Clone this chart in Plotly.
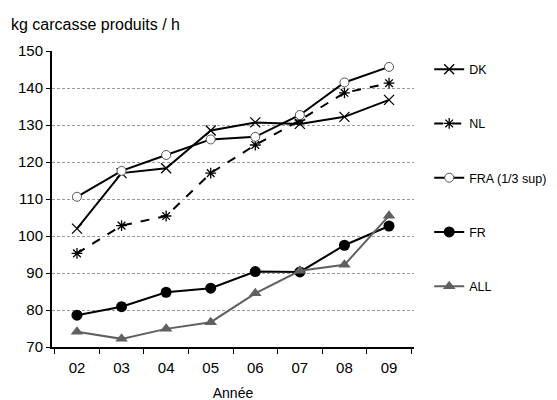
import plotly.graph_objects as go

years = ["02", "03", "04", "05", "06", "07", "08", "09"]
dk = [102.0, 117.0, 118.3, 128.5, 130.7, 130.3, 132.2, 136.8]
nl = [95.3, 102.8, 105.4, 117.0, 124.6, 131.3, 138.7, 141.3]
fra = [110.6, 117.6, 121.9, 126.1, 126.8, 132.7, 141.5, 145.7]
fr = [78.6, 80.9, 84.8, 85.9, 90.4, 90.3, 97.5, 102.7]
all_ = [74.1, 72.2, 74.9, 76.7, 84.5, 90.6, 92.2, 105.5]

fig = go.Figure()
series = [
    ("DK", dk, dict(color="black", width=2, dash="solid"),
     dict(symbol="x-thin-open", size=10, color="black", line=dict(color="black", width=1.3))),
    ("NL", nl, dict(color="black", width=2, dash="dash"),
     dict(symbol="asterisk-open", size=9, color="black", line=dict(color="black", width=1.3))),
    ("FRA (1/3 sup)", fra, dict(color="black", width=2, dash="solid"),
     dict(symbol="circle", size=9, color="white", line=dict(color="#555555", width=1))),
    ("FR", fr, dict(color="black", width=2, dash="solid"),
     dict(symbol="circle", size=11, color="black", line=dict(color="black", width=0))),
    ("ALL", all_, dict(color="#606060", width=2, dash="solid"),
     dict(symbol="triangle-up", size=11, color="#606060", line=dict(color="#606060", width=0))),
]
for name, vals, ln, mk in series:
    fig.add_trace(go.Scatter(x=years, y=vals, name=name, mode="lines+markers",
                             line=ln, marker=mk, legendgroup=name))

fig.update_layout(
    width=557, height=400,
    margin=dict(l=44, r=151, t=43, b=61),
    paper_bgcolor="white", plot_bgcolor="white",
    font=dict(family="Liberation Sans, Arial, sans-serif", color="black", size=15),
    showlegend=True,
    legend=dict(x=1.042, y=0.988, xanchor="left", yanchor="top",
                font=dict(size=12.5), tracegroupgap=35, itemwidth=30,
                maxheight=1, bgcolor="rgba(0,0,0,0)"),
    title=dict(text="kg carcasse produits / h", xref="container", yref="container",
               x=3 / 557, y=1 - 16 / 400, xanchor="left", yanchor="middle",
               font=dict(size=16)),
)
fig.update_xaxes(type="category", showline=True, linecolor="black", linewidth=2,
                 ticks="outside", tickson="boundaries", ticklen=5, tickcolor="black",
                 showgrid=False, tickfont=dict(size=15), ticklabelstandoff=6,
                 automargin=False,
                 title=dict(text="Année", font=dict(size=14), standoff=13))
fig.update_yaxes(range=[70, 150], dtick=10, showline=True, linecolor="black", linewidth=2,
                 ticks="outside", ticklen=4, tickcolor="black", automargin=False,
                 showgrid=True, gridcolor="#9a9a9a", griddash="3px,2px", gridwidth=1,
                 zeroline=False, tickfont=dict(size=15), ticklabelstandoff=0)
fig.write_html("out.html")
